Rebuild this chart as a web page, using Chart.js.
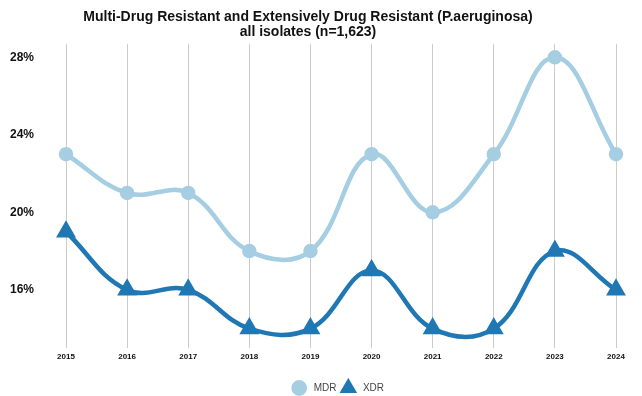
<!DOCTYPE html>
<html>
<head>
<meta charset="utf-8">
<script src="https://cdn.jsdelivr.net/npm/chart.js@4"></script>
<style>
  html, body { margin: 0; padding: 0; background: #fff; }
  #wrap { width: 642px; height: 396px; }
</style>
</head>
<body>
<div id="wrap"><canvas id="c" width="642" height="396"></canvas></div>
<script>
const years = ['2015','2016','2017','2018','2019','2020','2021','2022','2023','2024'];
const mdr = [23, 21, 21, 18, 18, 23, 20, 23, 28, 23];
const xdr = [19, 16, 16, 14, 14, 17, 14, 14, 18, 16];
const yTicks = [16, 20, 24, 28];

const fontFamily = '"Liberation Sans", Arial, sans-serif';

new Chart(document.getElementById('c'), {
  type: 'line',
  data: {
    labels: years,
    datasets: [
      {
        label: 'MDR',
        data: mdr,
        borderColor: '#a6cee3',
        backgroundColor: '#a6cee3',
        borderWidth: 4.5,
        pointStyle: 'circle',
        pointRadius: 5,
        pointHoverRadius: 5,
        tension: 0.4,
        fill: false
      },
      {
        label: 'XDR',
        data: xdr,
        borderColor: '#1f78b4',
        backgroundColor: '#1f78b4',
        borderWidth: 4.5,
        pointStyle: 'triangle',
        pointRadius: 7,
        pointHoverRadius: 7,
        tension: 0.4,
        fill: false
      }
    ]
  },
  options: {
    responsive: false,
    animation: false,
    devicePixelRatio: 1,
    layout: { padding: { left: 0, right: 26, top: 0, bottom: -7 } },
    plugins: {
      title: {
        display: true,
        text: ['Multi-Drug Resistant and Extensively Drug Resistant (P.aeruginosa)', 'all isolates (n=1,623)'],
        color: '#111',
        font: { family: fontFamily, size: 14, weight: 'bold', lineHeight: 1.1 },
        padding: { top: 9, bottom: 4 }
      },
      legend: {
        position: 'bottom',
        fullSize: false,
        labels: {
          usePointStyle: true,
          boxWidth: 8,
          boxHeight: 8,
          color: '#444',
          font: { family: fontFamily, size: 10 },
          padding: 5,
          generateLabels: (chart) => Chart.defaults.plugins.legend.labels.generateLabels(chart)
            .map(item => Object.assign(item, { text: '  ' + item.text + ' ' }))
        }
      },
      tooltip: { enabled: false }
    },
    scales: {
      x: {
        offset: false,
        grid: { display: true, color: '#cccccc', lineWidth: 1, drawTicks: false },
        border: { display: false },
        afterFit: (axis) => { axis.height = 30; },
        ticks: {
          color: '#111',
          font: { family: fontFamily, size: 8, weight: 'bold' },
          padding: 4,
          maxRotation: 0
        }
      },
      y: {
        min: 13,
        max: 28.7,
        grid: { display: false },
        border: { display: false },
        afterFit: (axis) => { axis.width = 66; },
        afterBuildTicks: (axis) => { axis.ticks = yTicks.map(v => ({ value: v })); },
        ticks: {
          color: '#111',
          font: { family: fontFamily, size: 12, weight: 'bold' },
          padding: 24,
          callback: (v) => v + '%'
        }
      }
    }
  }
});
</script>
</body>
</html>
